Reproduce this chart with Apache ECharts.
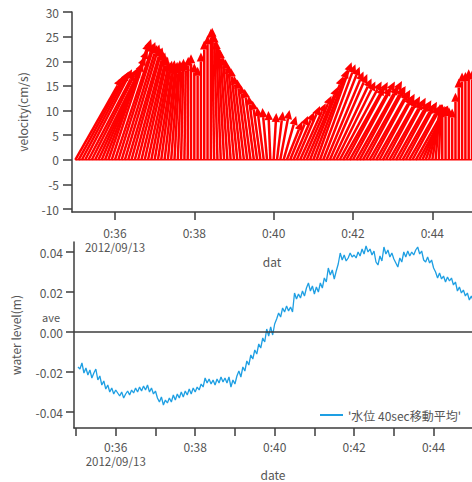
<!DOCTYPE html>
<html><head><meta charset="utf-8">
<script src="https://cdn.jsdelivr.net/npm/echarts@6/dist/echarts.min.js"></script>
<style>html,body{margin:0;padding:0;background:#fff}#c{width:472px;height:482px}</style>
</head><body><div id="c"></div>
<script>
// ---------- data ----------
const velStart = '00:35:00';     // first velocity sample
const velStepSec = 5;            // sampling step (s)
// east component (cm/s) of each velocity vector
const velU = [9.5,9.5,9.5,9.5,9.4,9.4,9.2,9.1,8.85,8.6,8.3,8.0,7.8,7.5,7.2,7.0,6.7,6.3,5.9,5.5,
  5.1,4.7,4.3,3.9,3.5,3.1,2.7,2.3,1.9,1.5,1.1,0.8,0.5,0.3,0.1,0,0,0,0,0,
  0,0,-0.4,-0.67,-0.94,-1.2,-1.47,-1.6,-1.74,-1.88,-2.0,-2.0,-2.0,-2.0,-1.88,-1.74,-1.6,-1.34,-0.94,-0.4,
  0.54,1.2,1.88,2.55,3.1,3.6,4.2,4.7,5.2,5.7,6.3,6.7,7.0,7.1,7.2,7.4,7.5,7.6,7.8,7.9,
  8.5,8.4,8.4,8.4,8.5,8.5,8.6,8.3,8.0,7.9,7.6,7.4,7.15,7.0,6.9,6.8,6.7,6.6,6.5,6.4,
  6.3,6.2,6.05,6.0,5.9,4.9,3.85,2.8,1.7,0.9,0.35,0,0,0,0,0,0,0,0,0,0];
// velocity (cm/s)
const velV = [16.7,17.3,17.9,18.4,18.0,18.7,18.6,19.8,21.0,22.3,24.0,24.5,23.6,23.9,23.3,23.4,22.7,22.8,21.9,21.8,
  21.0,20.9,19.9,19.7,20.1,19.4,20.2,19.5,19.9,19.3,20.2,19.8,20.5,19.9,20.9,21.4,19.6,18.9,21.8,24.2,
  25.3,26.6,26.8,25.6,24.3,23.0,22.4,20.9,20.4,19.3,18.7,17.1,16.3,15.2,14.4,13.0,12.0,10.7,10.5,9.9,
  9.5,9.8,10.1,8.9,7.8,8.9,9.7,10.9,11.5,13.0,14.8,16.9,18.4,19.8,19.4,18.9,17.9,17.4,16.5,15.9,
  15.9,14.9,15.8,14.8,15.9,15.0,16.0,14.8,15.0,13.9,14.2,13.0,13.4,12.4,12.9,12.0,12.6,11.7,12.1,11.3,
  11.8,10.9,11.3,10.6,11.0,10.9,10.9,11.2,11.1,11.3,11.0,11.1,10.7,10.7,10.4,13.6,16.5,17.7,17.8,18.4,18.1];

const wlStart = '00:35:03';      // first water-level sample
const wlStepSec = 3;
// water level (mm), 40 s moving average
const wlMm = [
 -17.5,-18.5,-15.5,-20.5,-18.0,-21.5,-19.0,-23.0,-20.5,-18.5,-24.0,-22.0,-26.5,-24.5,-28.5,-26.5,-30.0,-28.0,-31.0,-29.0,
 -30.5,-32.0,-30.0,-33.0,-31.0,-29.5,-31.5,-29.0,-30.5,-28.0,-30.0,-27.5,-29.5,-27.0,-29.0,-26.5,-30.0,-28.0,-31.0,-29.5,
 -33.0,-35.0,-32.5,-36.5,-34.0,-35.5,-33.0,-35.0,-31.5,-34.0,-31.0,-33.0,-30.0,-32.5,-29.5,-31.5,-28.5,-31.0,-28.0,-30.0,
 -27.5,-29.0,-26.0,-27.5,-23.0,-25.5,-23.5,-26.0,-24.0,-26.5,-23.5,-25.5,-22.5,-25.0,-23.0,-25.5,-22.5,-27.5,-24.0,-26.0,
 -22.0,-19.5,-22.5,-17.5,-19.5,-14.5,-16.5,-11.5,-13.5,-9.0,-11.0,-6.0,-8.0,-3.0,-5.0,1.5,-2.0,2.5,-1.5,4.0,
 6.5,9.5,7.5,12.0,10.0,13.0,10.5,12.5,10.0,19.5,16.5,19.0,17.0,20.5,18.0,22.0,24.5,20.5,23.0,19.0,
 22.5,20.0,24.5,22.0,27.0,25.0,32.0,28.5,31.0,26.5,30.5,34.0,39.5,36.0,38.5,35.5,37.0,39.5,37.5,38.5,
 37.0,40.0,38.0,41.5,39.0,43.0,40.0,41.5,38.5,40.5,35.0,33.5,38.0,35.5,42.5,39.0,41.0,37.5,39.5,36.5,
 34.5,32.5,37.0,35.0,40.0,37.5,40.5,38.0,40.0,38.5,41.0,42.5,39.0,40.5,36.0,35.0,37.5,34.5,36.0,32.0,
 30.0,27.0,29.5,26.5,28.0,25.0,27.5,25.5,27.0,23.5,25.0,20.5,22.5,19.5,21.0,18.0,19.5,16.0,18.0,15.5];

const velTicks = [-10,-5,0,5,10,15,20,25,30];
const wlTicks = [-0.04,-0.02,0,0.02,0.04];
const timeLabels = ['00:36','00:38','00:40','00:42','00:44'];
const timeMinorTicks = ['00:35','00:36','00:37','00:38','00:39','00:40','00:41','00:42','00:43','00:44'];
const dateText = '2012/09/13';
const wlName = "'水位 40sec移動平均'";

// ---------- helpers ----------
const T = s => Date.parse('2012-09-13T' + (s.length === 5 ? s + ':00' : s) + 'Z');
const velT0 = T(velStart), wlT0 = T(wlStart);
const velTimes = velU.map((_, i) => velT0 + i * velStepSec * 1000);
const wlTimes = wlMm.map((_, i) => wlT0 + i * wlStepSec * 1000);
const firstLabel = T(timeLabels[0]);
const fmtTime = v => {
  const d = new Date(v);
  let s = d.getUTCHours() + ':' + String(d.getUTCMinutes()).padStart(2, '0');
  if (Math.abs(v - firstLabel) < 1000) s += '\n{d|' + dateText + '}';
  return s;
};
const FONT = "'Noto Sans CJK JP', 'Noto Sans', sans-serif";
const TXT = '#555';
const AX = { lineStyle: { color: '#3c3c3c', width: 1.5 }, onZero: false };
const TICK = { color: '#3c3c3c', width: 1.5 };
const RICH = { d: { fontSize: 11.5, lineHeight: 14, color: TXT, fontFamily: FONT, verticalAlign: 'bottom' } };

const chart = echarts.init(document.getElementById('c'), null, { renderer: 'svg' });
chart.setOption({
  animation: false,
  textStyle: { fontFamily: FONT },
  grid: [
    { left: 72, right: 0, top: 12, bottom: 270 },
    { left: 74, right: 0, top: 242, bottom: 54 }
  ],
  xAxis: [
    { type: 'value', gridIndex: 0, min: T('00:34:55'), max: T('00:45:00'),
      axisLine: AX, splitLine: { show: false },
      axisTick: { length: 8, lineStyle: TICK, customValues: timeLabels.map(T) },
      axisLabel: { customValues: timeLabels.map(T), formatter: fmtTime, color: TXT, fontSize: 12,
                   lineHeight: 14, margin: 13, fontFamily: FONT, rich: RICH },
      name: 'dat', nameLocation: 'middle', nameGap: 43, nameTextStyle: { color: TXT, fontSize: 12, fontFamily: FONT } },
    { type: 'value', gridIndex: 1, min: T('00:34:57'), max: T('00:44:58'),
      axisLine: AX, splitLine: { show: false },
      axisTick: { length: 8, lineStyle: TICK, customValues: timeMinorTicks.map(T) },
      axisLabel: { customValues: timeLabels.map(T), formatter: fmtTime, color: TXT, fontSize: 12,
                   lineHeight: 14, margin: 11, fontFamily: FONT, rich: RICH },
      name: 'date', nameLocation: 'middle', nameGap: 40, nameTextStyle: { color: TXT, fontSize: 12, fontFamily: FONT } }
  ],
  yAxis: [
    { type: 'value', gridIndex: 0, min: -10.6, max: 30,
      axisLine: AX, splitLine: { show: false },
      axisTick: { length: 9, lineStyle: TICK, customValues: velTicks },
      axisLabel: { customValues: velTicks, color: TXT, fontSize: 12, margin: 13, fontFamily: FONT },
      name: 'velocity(cm/s)', nameLocation: 'middle', nameGap: 44,
      nameTextStyle: { color: TXT, fontSize: 12, fontFamily: FONT } },
    { type: 'value', gridIndex: 1, min: -0.048, max: 0.045,
      axisLine: AX, splitLine: { show: false },
      axisTick: { length: 8, lineStyle: TICK, customValues: wlTicks },
      axisLabel: { customValues: wlTicks, color: TXT, fontSize: 12, margin: 11, lineHeight: 15, fontFamily: FONT,
                   formatter: v => Math.abs(v) < 1e-9 ? '{a|ave}\n0.00\n ' : v.toFixed(2),
                   rich: { a: { fontSize: 11, lineHeight: 15, color: TXT, fontFamily: FONT, padding: [0, 3, 0, 0] } } },
      name: 'water level(m)', nameLocation: 'middle', nameGap: 53,
      nameTextStyle: { color: TXT, fontSize: 12, fontFamily: FONT } }
  ],
  legend: {
    left: 315, top: 404, icon: 'rect', itemWidth: 23, itemHeight: 2,
    data: [wlName], textStyle: { color: TXT, fontSize: 12, fontFamily: FONT }
  },
  series: [
    { type: 'line', xAxisIndex: 0, yAxisIndex: 0, symbol: 'none', silent: true,
      data: velTimes.map(t => [t, 0]), lineStyle: { color: '#ff0000', width: 1.5 } },
    { type: 'custom', xAxisIndex: 0, yAxisIndex: 0, clip: true,
      data: velTimes.map((t, i) => [t, velU[i], velV[i]]),
      renderItem(params, api) {
        const t = api.value(0), u = api.value(1), v = api.value(2);
        const base = api.coord([t, 0]);
        const top = api.coord([t, v]);
        const unit = Math.abs(api.size([0, 1])[1]);
        const tip = [base[0] + u * unit, top[1]];
        const dx = tip[0] - base[0], dy = tip[1] - base[1];
        const len = Math.hypot(dx, dy) || 1;
        const ux = dx / len, uy = dy / len, L = 9, W = 4.2;
        const bx = tip[0] - ux * L, by = tip[1] - uy * L;
        return { type: 'group', children: [
          { type: 'line', shape: { x1: base[0], y1: base[1], x2: bx, y2: by },
            style: { stroke: '#ff0000', lineWidth: 2.5 } },
          { type: 'polygon', shape: { points: [tip, [bx - uy * W, by + ux * W], [bx + uy * W, by - ux * W]] },
            style: { fill: '#ff0000' } }
        ] };
      } },
    { type: 'line', name: wlName, xAxisIndex: 1, yAxisIndex: 1, symbol: 'none',
      data: wlTimes.map((t, i) => [t, wlMm[i] / 1000]),
      itemStyle: { color: '#1e9fe3' }, lineStyle: { color: '#1e9fe3', width: 1.3 },
      markLine: { silent: true, symbol: 'none', label: { show: false },
        lineStyle: { color: '#3c3c3c', width: 1.5, type: 'solid' }, data: [{ yAxis: 0 }] } }
  ]
});
</script></body></html>
